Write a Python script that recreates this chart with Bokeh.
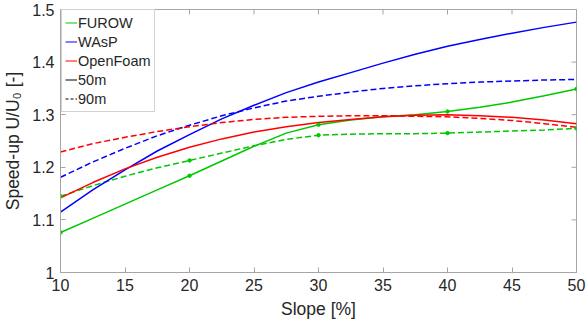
import math
from bokeh.plotting import figure
from bokeh.models import (ColumnDataSource, Range1d, FixedTicker,
                          CustomJSTickFormatter, Legend, LegendItem)
from bokeh.embed import file_html
from bokeh.resources import INLINE

# ---- data ----
slope = [10, 12.5, 15, 17.5, 20, 22.5, 25, 27.5, 30, 32.5, 35, 37.5, 40, 42.5, 45, 47.5, 50]

furow_50m = [1.076, 1.103, 1.130, 1.157, 1.184, 1.212, 1.240, 1.265, 1.281, 1.290, 1.296,
             1.300, 1.306, 1.314, 1.324, 1.336, 1.349]
furow_90m = [1.145, 1.165, 1.183, 1.199, 1.213, 1.227, 1.241, 1.253, 1.261, 1.263, 1.264,
             1.264, 1.265, 1.267, 1.269, 1.271, 1.274]
wasp_50m = [1.115, 1.157, 1.195, 1.231, 1.262, 1.292, 1.318, 1.342, 1.362, 1.380, 1.398,
            1.415, 1.430, 1.443, 1.455, 1.466, 1.476]
wasp_90m = [1.181, 1.210, 1.236, 1.260, 1.280, 1.298, 1.313, 1.326, 1.335, 1.343, 1.350,
            1.355, 1.359, 1.362, 1.364, 1.366, 1.367]
openfoam_50m = [1.142, 1.171, 1.197, 1.219, 1.238, 1.254, 1.267, 1.277, 1.285, 1.291, 1.296,
                1.299, 1.300, 1.298, 1.295, 1.290, 1.283]
openfoam_90m = [1.229, 1.245, 1.257, 1.268, 1.277, 1.285, 1.291, 1.295, 1.297, 1.298, 1.298,
                1.297, 1.296, 1.293, 1.289, 1.283, 1.276]

furow_sample_slopes = [10, 20, 30, 40, 50]

x_ticks = [10, 15, 20, 25, 30, 35, 40, 45, 50]
y_ticks = [1.0, 1.1, 1.2, 1.3, 1.4, 1.5]

legend_labels = ["FUROW", "WAsP", "OpenFoam", "50m", "90m"]

GREEN = "#00c800"
BLUE = "#0000ff"
RED = "#ff0000"
AXIS_GRAY = "#a6a6a6"
TEXT = "#262626"
FONT = "Liberation Sans"

x0, x1 = x_ticks[0], x_ticks[-1]
y0, y1 = y_ticks[0], y_ticks[-1]

src = ColumnDataSource(dict(slope=slope, f50=furow_50m, f90=furow_90m, w50=wasp_50m,
                            w90=wasp_90m, o50=openfoam_50m, o90=openfoam_90m))
idx = [slope.index(s) for s in furow_sample_slopes]
mk = ColumnDataSource(dict(slope=[slope[i] for i in idx],
                           f50=[furow_50m[i] for i in idx],
                           f90=[furow_90m[i] for i in idx]))

p = figure(width=586, height=327, output_backend="svg", toolbar_location=None,
           x_range=Range1d(x0, x1), y_range=Range1d(y0, y1),
           min_border_left=60, min_border_right=10, min_border_top=9, min_border_bottom=55)
p.background_fill_color = "white"
p.border_fill_color = "white"
p.grid.visible = False
p.outline_line_color = AXIS_GRAY
p.outline_line_width = 1

DASH = "6 3"
LW = 1.5
p.line("slope", "f50", source=src, line_color=GREEN, line_width=LW)
p.line("slope", "f90", source=src, line_color=GREEN, line_width=LW, line_dash=DASH)
p.line("slope", "w50", source=src, line_color=BLUE, line_width=LW)
p.line("slope", "w90", source=src, line_color=BLUE, line_width=LW, line_dash=DASH)
p.line("slope", "o50", source=src, line_color=RED, line_width=LW)
p.line("slope", "o90", source=src, line_color=RED, line_width=LW, line_dash=DASH)
p.scatter("slope", "f50", source=mk, size=3.5, color=GREEN)
p.scatter("slope", "f90", source=mk, size=3.5, color=GREEN)

# axes styling
for ax in (p.xaxis[0], p.yaxis[0]):
    ax.axis_line_color = AXIS_GRAY
    ax.major_tick_line_color = AXIS_GRAY
    ax.major_tick_in = 5
    ax.major_tick_out = 0
    ax.minor_tick_line_color = None
    ax.major_label_text_font = FONT
    ax.major_label_text_font_size = "16px"
    ax.major_label_text_color = TEXT
    ax.axis_label_text_font = FONT
    ax.axis_label_text_font_size = "17.5px"
    ax.axis_label_text_font_style = "normal"
    ax.axis_label_text_color = TEXT

p.xaxis[0].ticker = FixedTicker(ticks=x_ticks)
p.yaxis[0].ticker = FixedTicker(ticks=y_ticks)
p.yaxis[0].formatter = CustomJSTickFormatter(code="return String(Math.round(tick*10)/10)")
p.xaxis[0].axis_label = "Slope [%]"
p.yaxis[0].axis_label = "Speed-up U/U\u2080 [-]"
p.xaxis[0].major_label_standoff = 6
p.xaxis[0].axis_label_standoff = 5
p.yaxis[0].major_label_standoff = 6
p.yaxis[0].axis_label_standoff = 6

# box ticks on the top and right edges (inward, 5 px)
p.ray(x=x_ticks, y=[y1] * len(x_ticks), length=5, length_units="screen",
      angle=-math.pi / 2, line_color=AXIS_GRAY, line_width=1)
p.ray(x=[x1] * len(y_ticks), y=y_ticks, length=5, length_units="screen",
      angle=math.pi, line_color=AXIS_GRAY, line_width=1)

# legend proxies (a single NaN point each, nothing visible)
nan = float("nan")
proxy = ColumnDataSource(dict(x=[nan], y=[nan]))
lg = p.line("x", "y", source=proxy, line_color=GREEN, line_width=1)
lb = p.line("x", "y", source=proxy, line_color=BLUE, line_width=1)
lr = p.line("x", "y", source=proxy, line_color=RED, line_width=1)
lk = p.line("x", "y", source=proxy, line_color="black", line_width=1)
lkd = p.line("x", "y", source=proxy, line_color="black", line_width=1, line_dash="3 2")
items = [LegendItem(label=l, renderers=[r]) for l, r in zip(legend_labels, [lg, lb, lr, lk, lkd])]
legend = Legend(items=items, location=(1, 160))
legend.label_text_font = FONT
legend.label_text_font_size = "14.5px"
legend.label_text_color = TEXT
legend.glyph_width = 12
legend.glyph_height = 19
legend.label_height = 19
legend.label_standoff = 1
legend.spacing = 0
legend.padding = 3
legend.margin = 0
legend.border_line_color = AXIS_GRAY
legend.background_fill_alpha = 1
p.add_layout(legend)

open("out.html", "w").write(file_html(p, INLINE))
